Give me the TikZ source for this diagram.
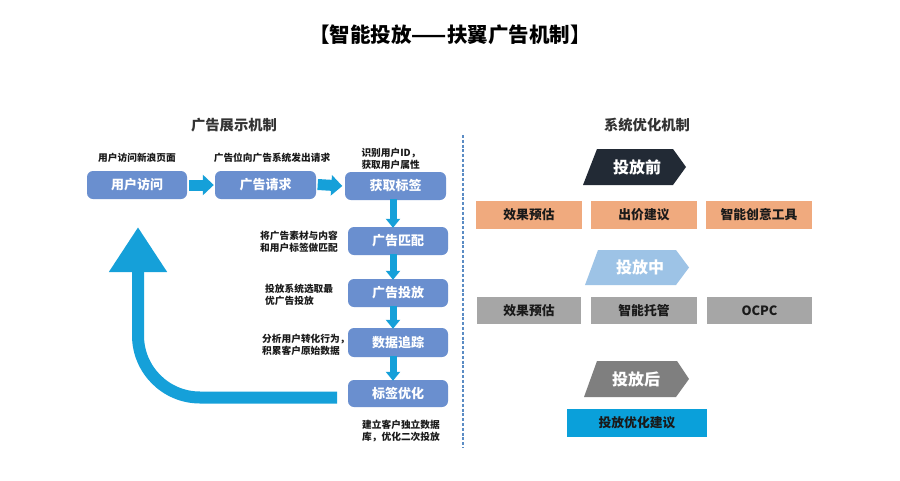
\documentclass[tikz,border=0pt]{standalone}
\usepackage{fontspec}
\setmainfont{Noto Sans CJK SC}
\usetikzlibrary{arrows.meta}
\definecolor{boxblue}{HTML}{6A8FCF}
\definecolor{arrowcyan}{HTML}{15A0D9}
\definecolor{orangebox}{HTML}{F0AA7E}
\definecolor{graybox}{HTML}{A6A6A6}
\definecolor{chevdark}{HTML}{222A35}
\definecolor{chevlight}{HTML}{9DC3E6}
\definecolor{chevgray}{HTML}{7F7F7F}
\definecolor{optblue}{HTML}{0AA0DA}
\definecolor{dashblue}{HTML}{5B8CC4}
\definecolor{txt}{HTML}{1A1A1A}
\tikzset{
  flowbox/.style={fill=boxblue, rounded corners=6pt, minimum width=100pt, minimum height=28pt,
    inner sep=0pt, text=white, font=\fontsize{13}{15}\selectfont\bfseries},
  note/.style={font=\fontsize{9.7}{12.5}\selectfont\bfseries, text=txt, inner sep=0pt, align=left},
  header/.style={font=\fontsize{14.3}{16}\selectfont\bfseries, text=black!80, inner sep=0pt},
  hblock/.style={draw=arrowcyan, line width=11pt, -{Triangle[length=11pt,width=20pt]}},
  vblock/.style={draw=arrowcyan, line width=7pt, -{Triangle[length=9pt,width=14pt]}},
  bigarrow/.style={draw=arrowcyan, line width=12pt, rounded corners=62pt, -{Triangle[length=45pt,width=55pt]}},
  sqbox/.style={minimum width=106pt, minimum height=28pt, inner sep=0pt, text=txt,
    font=\fontsize{12.8}{15}\selectfont\bfseries},
  chevtext/.style={text=white, inner sep=0pt, font=\fontsize{16}{18}\selectfont\bfseries},
  divider/.style={draw=dashblue, line width=1.5pt, dash pattern=on 3pt off 1.8pt},
}
\begin{document}
\begin{tikzpicture}[x=1pt,y=-1pt]
\useasboundingbox (0,0) rectangle (900,480);
\fill[white] (0,0) rectangle (900,480);

% title
\node[inner sep=0pt, font=\fontsize{20.5}{22}\selectfont\bfseries, text=black] (title) at (450,35) {【智能投放——扶翼广告机制】};

% headers
\node[header] (h1) at (234,125) {广告展示机制};
\node[header] (h2) at (647,125) {系统优化机制};

% divider
\coordinate (dtop) at (463,135);
\coordinate (dbot) at (463,448);
\draw[divider] (dtop) -- (dbot);

% flow boxes
\node[flowbox] (visit) at (137,185) {用户访问};
\node[flowbox, minimum width=101pt] (request) at (265.5,185) {广告请求};
\node[flowbox, minimum width=101pt] (gettag) at (395.5,186) {获取标签};
\node[flowbox] (match) at (398,241) {广告匹配};
\node[flowbox] (deliver) at (398,293) {广告投放};
\node[flowbox, minimum height=29pt] (track) at (398,342.5) {数据追踪};
\node[flowbox, minimum height=27pt] (tagopt) at (398,393.5) {标签优化};

% notes
\node[note, align=center] (n1) at (137,158) {用户访问新浪页面};
\node[note, align=center] (n2) at (272,158) {广告位向广告系统发出请求};
\node[note] (n3) at (391,159) {识别用户ID，\\获取用户属性};
\node[note, anchor=west] (n4) at (260,242) {将广告素材与内容\\和用户标签做匹配};
\node[note, anchor=west] (n5) at (265,295) {投放系统选取最\\优广告投放};
\node[note, anchor=west] (n6) at (262,345) {分析用户转化行为，\\积累客户原始数据};
\node[note, anchor=west] (n7) at (362,431) {建立客户独立数据\\库，优化二次投放};

% horizontal arrows
\draw[hblock] ([xshift=2pt]visit.east) -- ([xshift=-1pt]request.west);
\draw[hblock] ([xshift=1.5pt,yshift=0.5pt]request.east) -- ([xshift=-2.5pt]gettag.west);

% vertical arrows
\coordinate (ax) at (393,0);
\draw[vblock] ([yshift=1pt]gettag.south -| ax) -- ([yshift=-1pt]match.north -| ax);
\draw[vblock] ([yshift=1pt]match.south -| ax) -- ([yshift=-1pt]deliver.north -| ax);
\draw[vblock] ([yshift=1pt]deliver.south -| ax) -- ([yshift=-1pt]track.north -| ax);
\draw[vblock] ([yshift=1pt]track.south -| ax) -- ([yshift=-1pt]tagopt.north -| ax);

% big return arrow
\coordinate (btail) at (337,397.5);
\coordinate (bcorner) at (138,397.5);
\coordinate (btip) at (138,227);
\draw[bigarrow] (btail) -- (bcorner) -- (btip);

% right side: before
\fill[chevdark] (597,149) -- (673,149) -- (686,167) -- (673,185) -- (583,185) -- cycle;
\node[chevtext] (before) at (637,167) {投放前};
\node[sqbox, fill=orangebox] (o1) at (529,215) {效果预估};
\node[sqbox, fill=orangebox] (o2) at (644,215) {出价建议};
\node[sqbox, fill=orangebox] (o3) at (759,215) {智能创意工具};

% during
\fill[chevlight] (598,250) -- (676,250) -- (689,267.5) -- (676,285) -- (585,285) -- cycle;
\node[chevtext] (during) at (640,267.5) {投放中};
\node[sqbox, fill=graybox, minimum width=104pt, minimum height=27pt] (g1) at (529,310.5) {效果预估};
\node[sqbox, fill=graybox, minimum width=106pt, minimum height=27pt] (g2) at (644,310.5) {智能托管};
\node[sqbox, fill=graybox, minimum width=105pt, minimum height=27pt] (g3) at (759.5,310.5) {OCPC};

% after
\fill[chevgray] (597,361) -- (677,361) -- (689,379) -- (676,397) -- (584,397) -- cycle;
\node[chevtext] (after) at (636,379) {投放后};
\node[sqbox, fill=optblue, minimum width=140pt] (opt) at (637,423) {投放优化建议};
\end{tikzpicture}
\end{document}
